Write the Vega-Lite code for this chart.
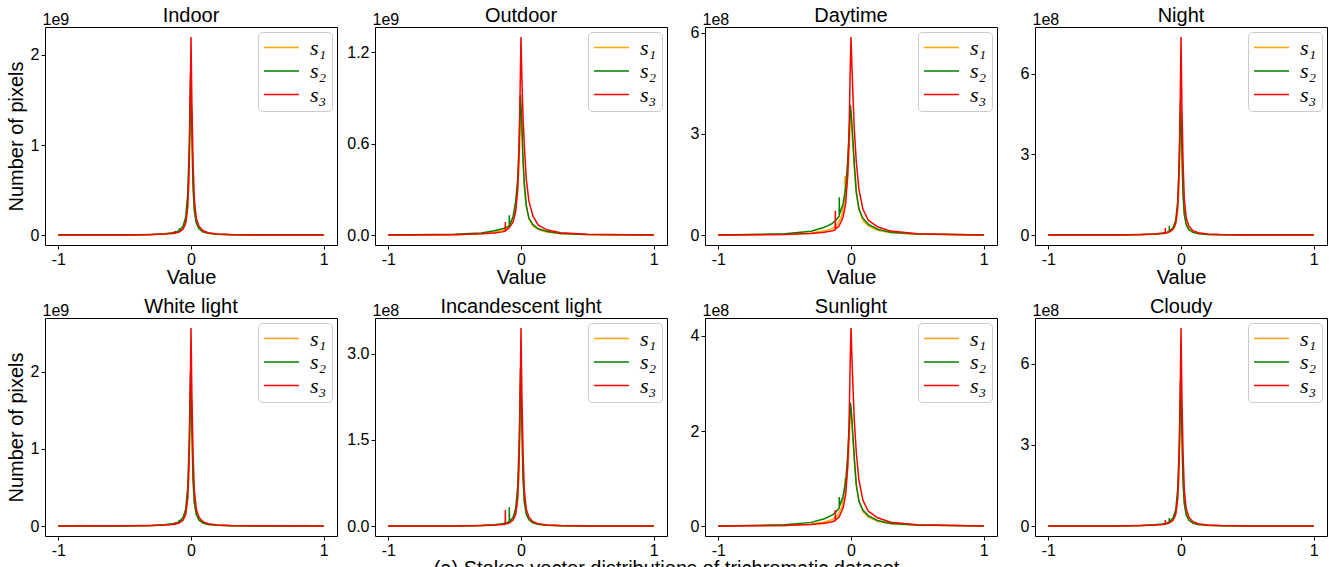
{
"$schema": "https://vega.github.io/schema/vega-lite/v6.json",
"padding": {"left": 5, "top": 5, "right": 0, "bottom": 0},
"config": {
  "font": "Liberation Sans",
  "view": {"stroke": "#000000", "strokeWidth": 1},
  "axis": {"domain": false, "grid": false, "tickColor": "#000000", "tickSize": 4, "labelColor": "#000000", "labelFontSize": 16, "labelPadding": 2, "titleFontSize": 20, "titleFontWeight": "normal", "titleColor": "#000000", "labelFont": "Liberation Sans", "titleFont": "Liberation Sans"},
  "title": {"fontSize": 20, "fontWeight": "normal", "color": "#000000", "font": "Liberation Sans", "frame": "group", "anchor": "middle", "offset": -15},
  "legend": {"orient": "top-right", "offset": 5, "padding": 5, "fillColor": "#ffffff", "strokeColor": "#cccccc", "cornerRadius": 4, "symbolType": "stroke", "symbolSize": 1225, "symbolStrokeWidth": 2.8, "clipHeight": 21, "rowPadding": 0.5, "labelFont": "Liberation Serif", "labelFontStyle": "italic", "labelFontSize": 22, "labelOffset": 10, "title": null},
  "line": {"strokeWidth": 1.5}
},
"datasets": {
"Indoor": [
{"s":"s₁","x":-1,"y":0},{"s":"s₁","x":-0.5,"y":0.002},{"s":"s₁","x":-0.3,"y":0.005},{"s":"s₁","x":-0.2,"y":0.012},{"s":"s₁","x":-0.14,"y":0.02},{"s":"s₁","x":-0.1,"y":0.034},{"s":"s₁","x":-0.07,"y":0.06},{"s":"s₁","x":-0.046,"y":0.11},{"s":"s₁","x":-0.045,"y":0.16},{"s":"s₁","x":-0.044,"y":0.119},{"s":"s₁","x":-0.03,"y":0.238},{"s":"s₁","x":-0.018,"y":0.51},{"s":"s₁","x":-0.009,"y":1.02},{"s":"s₁","x":-0.002,"y":1.7},{"s":"s₁","x":0.006,"y":1.224},{"s":"s₁","x":0.015,"y":0.595},{"s":"s₁","x":0.025,"y":0.289},{"s":"s₁","x":0.04,"y":0.145},{"s":"s₁","x":0.06,"y":0.071},{"s":"s₁","x":0.09,"y":0.036},{"s":"s₁","x":0.13,"y":0.019},{"s":"s₁","x":0.2,"y":0.009},{"s":"s₁","x":0.3,"y":0.003},{"s":"s₁","x":0.5,"y":0.002},{"s":"s₁","x":1,"y":0},
{"s":"s₂","x":-1,"y":0},{"s":"s₂","x":-0.5,"y":0.002},{"s":"s₂","x":-0.3,"y":0.007},{"s":"s₂","x":-0.2,"y":0.016},{"s":"s₂","x":-0.14,"y":0.027},{"s":"s₂","x":-0.11,"y":0.036},{"s":"s₂","x":-0.089,"y":0.05},{"s":"s₂","x":-0.088,"y":0.075},{"s":"s₂","x":-0.087,"y":0.054},{"s":"s₂","x":-0.06,"y":0.099},{"s":"s₂","x":-0.04,"y":0.198},{"s":"s₂","x":-0.025,"y":0.45},{"s":"s₂","x":-0.013,"y":0.99},{"s":"s₂","x":-0.004,"y":1.8},{"s":"s₂","x":0.004,"y":1.35},{"s":"s₂","x":0.015,"y":0.54},{"s":"s₂","x":0.025,"y":0.27},{"s":"s₂","x":0.04,"y":0.135},{"s":"s₂","x":0.06,"y":0.072},{"s":"s₂","x":0.09,"y":0.036},{"s":"s₂","x":0.13,"y":0.02},{"s":"s₂","x":0.2,"y":0.009},{"s":"s₂","x":0.3,"y":0.004},{"s":"s₂","x":0.5,"y":0.002},{"s":"s₂","x":1,"y":0},
{"s":"s₃","x":-1,"y":0},{"s":"s₃","x":-0.5,"y":0.002},{"s":"s₃","x":-0.3,"y":0.007},{"s":"s₃","x":-0.2,"y":0.011},{"s":"s₃","x":-0.14,"y":0.018},{"s":"s₃","x":-0.119,"y":0.02},{"s":"s₃","x":-0.118,"y":0.045},{"s":"s₃","x":-0.117,"y":0.022},{"s":"s₃","x":-0.09,"y":0.033},{"s":"s₃","x":-0.06,"y":0.066},{"s":"s₃","x":-0.04,"y":0.132},{"s":"s₃","x":-0.025,"y":0.308},{"s":"s₃","x":-0.015,"y":0.704},{"s":"s₃","x":-0.007,"y":1.32},{"s":"s₃","x":0,"y":2.2},{"s":"s₃","x":0.007,"y":1.43},{"s":"s₃","x":0.015,"y":0.836},{"s":"s₃","x":0.025,"y":0.396},{"s":"s₃","x":0.04,"y":0.187},{"s":"s₃","x":0.06,"y":0.099},{"s":"s₃","x":0.09,"y":0.048},{"s":"s₃","x":0.13,"y":0.026},{"s":"s₃","x":0.2,"y":0.013},{"s":"s₃","x":0.3,"y":0.007},{"s":"s₃","x":0.5,"y":0.002},{"s":"s₃","x":1,"y":0}
],
"Outdoor": [
{"s":"s₁","x":-1,"y":0},{"s":"s₁","x":-0.5,"y":0.003},{"s":"s₁","x":-0.3,"y":0.009},{"s":"s₁","x":-0.2,"y":0.019},{"s":"s₁","x":-0.14,"y":0.03},{"s":"s₁","x":-0.1,"y":0.047},{"s":"s₁","x":-0.07,"y":0.085},{"s":"s₁","x":-0.046,"y":0.145},{"s":"s₁","x":-0.045,"y":0.2},{"s":"s₁","x":-0.044,"y":0.162},{"s":"s₁","x":-0.03,"y":0.255},{"s":"s₁","x":-0.018,"y":0.4},{"s":"s₁","x":-0.009,"y":0.62},{"s":"s₁","x":-0.002,"y":0.85},{"s":"s₁","x":0.006,"y":0.697},{"s":"s₁","x":0.015,"y":0.468},{"s":"s₁","x":0.025,"y":0.315},{"s":"s₁","x":0.04,"y":0.187},{"s":"s₁","x":0.06,"y":0.106},{"s":"s₁","x":0.09,"y":0.06},{"s":"s₁","x":0.13,"y":0.037},{"s":"s₁","x":0.2,"y":0.019},{"s":"s₁","x":0.3,"y":0.009},{"s":"s₁","x":0.5,"y":0.003},{"s":"s₁","x":1,"y":0},
{"s":"s₂","x":-1,"y":0},{"s":"s₂","x":-0.5,"y":0.005},{"s":"s₂","x":-0.3,"y":0.014},{"s":"s₂","x":-0.2,"y":0.028},{"s":"s₂","x":-0.14,"y":0.041},{"s":"s₂","x":-0.11,"y":0.051},{"s":"s₂","x":-0.089,"y":0.06},{"s":"s₂","x":-0.088,"y":0.13},{"s":"s₂","x":-0.087,"y":0.064},{"s":"s₂","x":-0.06,"y":0.12},{"s":"s₂","x":-0.04,"y":0.221},{"s":"s₂","x":-0.025,"y":0.368},{"s":"s₂","x":-0.013,"y":0.626},{"s":"s₂","x":-0.004,"y":0.92},{"s":"s₂","x":0.004,"y":0.782},{"s":"s₂","x":0.015,"y":0.506},{"s":"s₂","x":0.025,"y":0.34},{"s":"s₂","x":0.04,"y":0.193},{"s":"s₂","x":0.06,"y":0.11},{"s":"s₂","x":0.09,"y":0.069},{"s":"s₂","x":0.13,"y":0.041},{"s":"s₂","x":0.2,"y":0.023},{"s":"s₂","x":0.3,"y":0.011},{"s":"s₂","x":0.5,"y":0.004},{"s":"s₂","x":1,"y":0},
{"s":"s₃","x":-1,"y":0},{"s":"s₃","x":-0.5,"y":0.003},{"s":"s₃","x":-0.3,"y":0.008},{"s":"s₃","x":-0.2,"y":0.013},{"s":"s₃","x":-0.14,"y":0.021},{"s":"s₃","x":-0.119,"y":0.026},{"s":"s₃","x":-0.118,"y":0.085},{"s":"s₃","x":-0.117,"y":0.029},{"s":"s₃","x":-0.09,"y":0.046},{"s":"s₃","x":-0.06,"y":0.085},{"s":"s₃","x":-0.04,"y":0.156},{"s":"s₃","x":-0.025,"y":0.299},{"s":"s₃","x":-0.015,"y":0.546},{"s":"s₃","x":-0.007,"y":0.936},{"s":"s₃","x":0,"y":1.3},{"s":"s₃","x":0.007,"y":1.014},{"s":"s₃","x":0.015,"y":0.78},{"s":"s₃","x":0.025,"y":0.585},{"s":"s₃","x":0.04,"y":0.364},{"s":"s₃","x":0.06,"y":0.221},{"s":"s₃","x":0.09,"y":0.124},{"s":"s₃","x":0.13,"y":0.065},{"s":"s₃","x":0.2,"y":0.033},{"s":"s₃","x":0.3,"y":0.016},{"s":"s₃","x":0.5,"y":0.005},{"s":"s₃","x":1,"y":0}
],
"Daytime": [
{"s":"s₁","x":-1,"y":0},{"s":"s₁","x":-0.5,"y":0.022},{"s":"s₁","x":-0.3,"y":0.065},{"s":"s₁","x":-0.2,"y":0.126},{"s":"s₁","x":-0.14,"y":0.198},{"s":"s₁","x":-0.1,"y":0.324},{"s":"s₁","x":-0.07,"y":0.576},{"s":"s₁","x":-0.046,"y":1.08},{"s":"s₁","x":-0.045,"y":1.75},{"s":"s₁","x":-0.044,"y":1.188},{"s":"s₁","x":-0.03,"y":1.512},{"s":"s₁","x":-0.018,"y":2.16},{"s":"s₁","x":-0.009,"y":3.06},{"s":"s₁","x":-0.002,"y":3.6},{"s":"s₁","x":0.006,"y":3.24},{"s":"s₁","x":0.015,"y":2.592},{"s":"s₁","x":0.025,"y":1.98},{"s":"s₁","x":0.04,"y":1.26},{"s":"s₁","x":0.06,"y":0.756},{"s":"s₁","x":0.09,"y":0.432},{"s":"s₁","x":0.13,"y":0.27},{"s":"s₁","x":0.2,"y":0.144},{"s":"s₁","x":0.3,"y":0.072},{"s":"s₁","x":0.5,"y":0.025},{"s":"s₁","x":1,"y":0},
{"s":"s₂","x":-1,"y":0},{"s":"s₂","x":-0.5,"y":0.039},{"s":"s₂","x":-0.3,"y":0.116},{"s":"s₂","x":-0.2,"y":0.231},{"s":"s₂","x":-0.14,"y":0.347},{"s":"s₂","x":-0.11,"y":0.462},{"s":"s₂","x":-0.089,"y":0.558},{"s":"s₂","x":-0.088,"y":1.12},{"s":"s₂","x":-0.087,"y":0.616},{"s":"s₂","x":-0.06,"y":0.924},{"s":"s₂","x":-0.04,"y":1.4},{"s":"s₂","x":-0.025,"y":2.195},{"s":"s₂","x":-0.013,"y":3.157},{"s":"s₂","x":-0.004,"y":3.85},{"s":"s₂","x":0.004,"y":3.465},{"s":"s₂","x":0.015,"y":2.772},{"s":"s₂","x":0.025,"y":2.118},{"s":"s₂","x":0.04,"y":1.271},{"s":"s₂","x":0.06,"y":0.77},{"s":"s₂","x":0.09,"y":0.501},{"s":"s₂","x":0.13,"y":0.327},{"s":"s₂","x":0.2,"y":0.173},{"s":"s₂","x":0.3,"y":0.085},{"s":"s₂","x":0.5,"y":0.031},{"s":"s₂","x":1,"y":0},
{"s":"s₃","x":-1,"y":0},{"s":"s₃","x":-0.5,"y":0.018},{"s":"s₃","x":-0.3,"y":0.047},{"s":"s₃","x":-0.2,"y":0.082},{"s":"s₃","x":-0.14,"y":0.129},{"s":"s₃","x":-0.119,"y":0.159},{"s":"s₃","x":-0.118,"y":0.72},{"s":"s₃","x":-0.117,"y":0.176},{"s":"s₃","x":-0.09,"y":0.265},{"s":"s₃","x":-0.06,"y":0.529},{"s":"s₃","x":-0.04,"y":0.941},{"s":"s₃","x":-0.025,"y":1.764},{"s":"s₃","x":-0.015,"y":2.94},{"s":"s₃","x":-0.007,"y":4.704},{"s":"s₃","x":0,"y":5.88},{"s":"s₃","x":0.007,"y":4.998},{"s":"s₃","x":0.015,"y":4.116},{"s":"s₃","x":0.025,"y":3.116},{"s":"s₃","x":0.04,"y":2.176},{"s":"s₃","x":0.06,"y":1.352},{"s":"s₃","x":0.09,"y":0.764},{"s":"s₃","x":0.13,"y":0.441},{"s":"s₃","x":0.2,"y":0.247},{"s":"s₃","x":0.3,"y":0.118},{"s":"s₃","x":0.5,"y":0.041},{"s":"s₃","x":1,"y":0}
],
"Night": [
{"s":"s₁","x":-1,"y":0},{"s":"s₁","x":-0.5,"y":0.005},{"s":"s₁","x":-0.3,"y":0.014},{"s":"s₁","x":-0.2,"y":0.034},{"s":"s₁","x":-0.14,"y":0.058},{"s":"s₁","x":-0.1,"y":0.096},{"s":"s₁","x":-0.07,"y":0.168},{"s":"s₁","x":-0.046,"y":0.312},{"s":"s₁","x":-0.045,"y":0.48},{"s":"s₁","x":-0.044,"y":0.336},{"s":"s₁","x":-0.03,"y":0.672},{"s":"s₁","x":-0.018,"y":1.44},{"s":"s₁","x":-0.009,"y":2.88},{"s":"s₁","x":-0.002,"y":4.8},{"s":"s₁","x":0.006,"y":3.456},{"s":"s₁","x":0.015,"y":1.68},{"s":"s₁","x":0.025,"y":0.816},{"s":"s₁","x":0.04,"y":0.408},{"s":"s₁","x":0.06,"y":0.202},{"s":"s₁","x":0.09,"y":0.101},{"s":"s₁","x":0.13,"y":0.053},{"s":"s₁","x":0.2,"y":0.024},{"s":"s₁","x":0.3,"y":0.01},{"s":"s₁","x":0.5,"y":0.005},{"s":"s₁","x":1,"y":0},
{"s":"s₂","x":-1,"y":0},{"s":"s₂","x":-0.5,"y":0.005},{"s":"s₂","x":-0.3,"y":0.02},{"s":"s₂","x":-0.2,"y":0.045},{"s":"s₂","x":-0.14,"y":0.075},{"s":"s₂","x":-0.11,"y":0.1},{"s":"s₂","x":-0.089,"y":0.14},{"s":"s₂","x":-0.088,"y":0.35},{"s":"s₂","x":-0.087,"y":0.15},{"s":"s₂","x":-0.06,"y":0.275},{"s":"s₂","x":-0.04,"y":0.55},{"s":"s₂","x":-0.025,"y":1.25},{"s":"s₂","x":-0.013,"y":2.75},{"s":"s₂","x":-0.004,"y":5},{"s":"s₂","x":0.004,"y":3.75},{"s":"s₂","x":0.015,"y":1.5},{"s":"s₂","x":0.025,"y":0.75},{"s":"s₂","x":0.04,"y":0.375},{"s":"s₂","x":0.06,"y":0.2},{"s":"s₂","x":0.09,"y":0.1},{"s":"s₂","x":0.13,"y":0.055},{"s":"s₂","x":0.2,"y":0.025},{"s":"s₂","x":0.3,"y":0.01},{"s":"s₂","x":0.5,"y":0.005},{"s":"s₂","x":1,"y":0},
{"s":"s₃","x":-1,"y":0},{"s":"s₃","x":-0.5,"y":0.007},{"s":"s₃","x":-0.3,"y":0.022},{"s":"s₃","x":-0.2,"y":0.037},{"s":"s₃","x":-0.14,"y":0.059},{"s":"s₃","x":-0.119,"y":0.066},{"s":"s₃","x":-0.118,"y":0.26},{"s":"s₃","x":-0.117,"y":0.074},{"s":"s₃","x":-0.09,"y":0.111},{"s":"s₃","x":-0.06,"y":0.221},{"s":"s₃","x":-0.04,"y":0.442},{"s":"s₃","x":-0.025,"y":1.032},{"s":"s₃","x":-0.015,"y":2.358},{"s":"s₃","x":-0.007,"y":4.422},{"s":"s₃","x":0,"y":7.37},{"s":"s₃","x":0.007,"y":4.791},{"s":"s₃","x":0.015,"y":2.801},{"s":"s₃","x":0.025,"y":1.327},{"s":"s₃","x":0.04,"y":0.626},{"s":"s₃","x":0.06,"y":0.332},{"s":"s₃","x":0.09,"y":0.162},{"s":"s₃","x":0.13,"y":0.088},{"s":"s₃","x":0.2,"y":0.044},{"s":"s₃","x":0.3,"y":0.022},{"s":"s₃","x":0.5,"y":0.007},{"s":"s₃","x":1,"y":0}
],
"White": [
{"s":"s₁","x":-1,"y":0},{"s":"s₁","x":-0.5,"y":0.002},{"s":"s₁","x":-0.3,"y":0.006},{"s":"s₁","x":-0.2,"y":0.013},{"s":"s₁","x":-0.14,"y":0.023},{"s":"s₁","x":-0.1,"y":0.038},{"s":"s₁","x":-0.07,"y":0.067},{"s":"s₁","x":-0.046,"y":0.124},{"s":"s₁","x":-0.045,"y":0.16},{"s":"s₁","x":-0.044,"y":0.133},{"s":"s₁","x":-0.03,"y":0.266},{"s":"s₁","x":-0.018,"y":0.57},{"s":"s₁","x":-0.009,"y":1.14},{"s":"s₁","x":-0.002,"y":1.9},{"s":"s₁","x":0.006,"y":1.368},{"s":"s₁","x":0.015,"y":0.665},{"s":"s₁","x":0.025,"y":0.323},{"s":"s₁","x":0.04,"y":0.162},{"s":"s₁","x":0.06,"y":0.08},{"s":"s₁","x":0.09,"y":0.04},{"s":"s₁","x":0.13,"y":0.021},{"s":"s₁","x":0.2,"y":0.01},{"s":"s₁","x":0.3,"y":0.004},{"s":"s₁","x":0.5,"y":0.002},{"s":"s₁","x":1,"y":0},
{"s":"s₂","x":-1,"y":0},{"s":"s₂","x":-0.5,"y":0.002},{"s":"s₂","x":-0.3,"y":0.008},{"s":"s₂","x":-0.2,"y":0.018},{"s":"s₂","x":-0.14,"y":0.03},{"s":"s₂","x":-0.11,"y":0.04},{"s":"s₂","x":-0.089,"y":0.056},{"s":"s₂","x":-0.088,"y":0.08},{"s":"s₂","x":-0.087,"y":0.06},{"s":"s₂","x":-0.06,"y":0.11},{"s":"s₂","x":-0.04,"y":0.22},{"s":"s₂","x":-0.025,"y":0.5},{"s":"s₂","x":-0.013,"y":1.1},{"s":"s₂","x":-0.004,"y":2},{"s":"s₂","x":0.004,"y":1.5},{"s":"s₂","x":0.015,"y":0.6},{"s":"s₂","x":0.025,"y":0.3},{"s":"s₂","x":0.04,"y":0.15},{"s":"s₂","x":0.06,"y":0.08},{"s":"s₂","x":0.09,"y":0.04},{"s":"s₂","x":0.13,"y":0.022},{"s":"s₂","x":0.2,"y":0.01},{"s":"s₂","x":0.3,"y":0.004},{"s":"s₂","x":0.5,"y":0.002},{"s":"s₂","x":1,"y":0},
{"s":"s₃","x":-1,"y":0},{"s":"s₃","x":-0.5,"y":0.003},{"s":"s₃","x":-0.3,"y":0.008},{"s":"s₃","x":-0.2,"y":0.013},{"s":"s₃","x":-0.14,"y":0.021},{"s":"s₃","x":-0.119,"y":0.023},{"s":"s₃","x":-0.118,"y":0.05},{"s":"s₃","x":-0.117,"y":0.026},{"s":"s₃","x":-0.09,"y":0.039},{"s":"s₃","x":-0.06,"y":0.077},{"s":"s₃","x":-0.04,"y":0.154},{"s":"s₃","x":-0.025,"y":0.36},{"s":"s₃","x":-0.015,"y":0.822},{"s":"s₃","x":-0.007,"y":1.542},{"s":"s₃","x":0,"y":2.57},{"s":"s₃","x":0.007,"y":1.671},{"s":"s₃","x":0.015,"y":0.977},{"s":"s₃","x":0.025,"y":0.463},{"s":"s₃","x":0.04,"y":0.218},{"s":"s₃","x":0.06,"y":0.116},{"s":"s₃","x":0.09,"y":0.057},{"s":"s₃","x":0.13,"y":0.031},{"s":"s₃","x":0.2,"y":0.015},{"s":"s₃","x":0.3,"y":0.008},{"s":"s₃","x":0.5,"y":0.003},{"s":"s₃","x":1,"y":0}
],
"Incandescent": [
{"s":"s₁","x":-1,"y":0},{"s":"s₁","x":-0.5,"y":0.003},{"s":"s₁","x":-0.3,"y":0.008},{"s":"s₁","x":-0.2,"y":0.018},{"s":"s₁","x":-0.14,"y":0.031},{"s":"s₁","x":-0.1,"y":0.052},{"s":"s₁","x":-0.07,"y":0.091},{"s":"s₁","x":-0.046,"y":0.169},{"s":"s₁","x":-0.045,"y":0.28},{"s":"s₁","x":-0.044,"y":0.182},{"s":"s₁","x":-0.03,"y":0.364},{"s":"s₁","x":-0.018,"y":0.78},{"s":"s₁","x":-0.009,"y":1.56},{"s":"s₁","x":-0.002,"y":2.6},{"s":"s₁","x":0.006,"y":1.872},{"s":"s₁","x":0.015,"y":0.91},{"s":"s₁","x":0.025,"y":0.442},{"s":"s₁","x":0.04,"y":0.221},{"s":"s₁","x":0.06,"y":0.109},{"s":"s₁","x":0.09,"y":0.055},{"s":"s₁","x":0.13,"y":0.029},{"s":"s₁","x":0.2,"y":0.013},{"s":"s₁","x":0.3,"y":0.005},{"s":"s₁","x":0.5,"y":0.003},{"s":"s₁","x":1,"y":0},
{"s":"s₂","x":-1,"y":0},{"s":"s₂","x":-0.5,"y":0.003},{"s":"s₂","x":-0.3,"y":0.011},{"s":"s₂","x":-0.2,"y":0.025},{"s":"s₂","x":-0.14,"y":0.041},{"s":"s₂","x":-0.11,"y":0.055},{"s":"s₂","x":-0.089,"y":0.077},{"s":"s₂","x":-0.088,"y":0.33},{"s":"s₂","x":-0.087,"y":0.083},{"s":"s₂","x":-0.06,"y":0.151},{"s":"s₂","x":-0.04,"y":0.303},{"s":"s₂","x":-0.025,"y":0.688},{"s":"s₂","x":-0.013,"y":1.513},{"s":"s₂","x":-0.004,"y":2.75},{"s":"s₂","x":0.004,"y":2.063},{"s":"s₂","x":0.015,"y":0.825},{"s":"s₂","x":0.025,"y":0.413},{"s":"s₂","x":0.04,"y":0.206},{"s":"s₂","x":0.06,"y":0.11},{"s":"s₂","x":0.09,"y":0.055},{"s":"s₂","x":0.13,"y":0.03},{"s":"s₂","x":0.2,"y":0.014},{"s":"s₂","x":0.3,"y":0.006},{"s":"s₂","x":0.5,"y":0.003},{"s":"s₂","x":1,"y":0},
{"s":"s₃","x":-1,"y":0},{"s":"s₃","x":-0.5,"y":0.003},{"s":"s₃","x":-0.3,"y":0.01},{"s":"s₃","x":-0.2,"y":0.017},{"s":"s₃","x":-0.14,"y":0.028},{"s":"s₃","x":-0.119,"y":0.031},{"s":"s₃","x":-0.118,"y":0.28},{"s":"s₃","x":-0.117,"y":0.035},{"s":"s₃","x":-0.09,"y":0.052},{"s":"s₃","x":-0.06,"y":0.104},{"s":"s₃","x":-0.04,"y":0.207},{"s":"s₃","x":-0.025,"y":0.483},{"s":"s₃","x":-0.015,"y":1.104},{"s":"s₃","x":-0.007,"y":2.07},{"s":"s₃","x":0,"y":3.45},{"s":"s₃","x":0.007,"y":2.243},{"s":"s₃","x":0.015,"y":1.311},{"s":"s₃","x":0.025,"y":0.621},{"s":"s₃","x":0.04,"y":0.293},{"s":"s₃","x":0.06,"y":0.155},{"s":"s₃","x":0.09,"y":0.076},{"s":"s₃","x":0.13,"y":0.041},{"s":"s₃","x":0.2,"y":0.021},{"s":"s₃","x":0.3,"y":0.01},{"s":"s₃","x":0.5,"y":0.003},{"s":"s₃","x":1,"y":0}
],
"Sunlight": [
{"s":"s₁","x":-1,"y":0},{"s":"s₁","x":-0.5,"y":0.015},{"s":"s₁","x":-0.3,"y":0.045},{"s":"s₁","x":-0.2,"y":0.088},{"s":"s₁","x":-0.14,"y":0.138},{"s":"s₁","x":-0.1,"y":0.225},{"s":"s₁","x":-0.07,"y":0.4},{"s":"s₁","x":-0.046,"y":0.75},{"s":"s₁","x":-0.045,"y":1.0},{"s":"s₁","x":-0.044,"y":0.825},{"s":"s₁","x":-0.03,"y":1.05},{"s":"s₁","x":-0.018,"y":1.5},{"s":"s₁","x":-0.009,"y":2.125},{"s":"s₁","x":-0.002,"y":2.5},{"s":"s₁","x":0.006,"y":2.25},{"s":"s₁","x":0.015,"y":1.8},{"s":"s₁","x":0.025,"y":1.375},{"s":"s₁","x":0.04,"y":0.875},{"s":"s₁","x":0.06,"y":0.525},{"s":"s₁","x":0.09,"y":0.3},{"s":"s₁","x":0.13,"y":0.188},{"s":"s₁","x":0.2,"y":0.1},{"s":"s₁","x":0.3,"y":0.05},{"s":"s₁","x":0.5,"y":0.018},{"s":"s₁","x":1,"y":0},
{"s":"s₂","x":-1,"y":0},{"s":"s₂","x":-0.5,"y":0.026},{"s":"s₂","x":-0.3,"y":0.078},{"s":"s₂","x":-0.2,"y":0.156},{"s":"s₂","x":-0.14,"y":0.234},{"s":"s₂","x":-0.11,"y":0.312},{"s":"s₂","x":-0.089,"y":0.377},{"s":"s₂","x":-0.088,"y":0.61},{"s":"s₂","x":-0.087,"y":0.416},{"s":"s₂","x":-0.06,"y":0.624},{"s":"s₂","x":-0.04,"y":0.95},{"s":"s₂","x":-0.025,"y":1.482},{"s":"s₂","x":-0.013,"y":2.132},{"s":"s₂","x":-0.004,"y":2.6},{"s":"s₂","x":0.004,"y":2.34},{"s":"s₂","x":0.015,"y":1.872},{"s":"s₂","x":0.025,"y":1.43},{"s":"s₂","x":0.04,"y":0.858},{"s":"s₂","x":0.06,"y":0.52},{"s":"s₂","x":0.09,"y":0.338},{"s":"s₂","x":0.13,"y":0.221},{"s":"s₂","x":0.2,"y":0.117},{"s":"s₂","x":0.3,"y":0.057},{"s":"s₂","x":0.5,"y":0.021},{"s":"s₂","x":1,"y":0},
{"s":"s₃","x":-1,"y":0},{"s":"s₃","x":-0.5,"y":0.013},{"s":"s₃","x":-0.3,"y":0.033},{"s":"s₃","x":-0.2,"y":0.058},{"s":"s₃","x":-0.14,"y":0.092},{"s":"s₃","x":-0.119,"y":0.113},{"s":"s₃","x":-0.118,"y":0.34},{"s":"s₃","x":-0.117,"y":0.125},{"s":"s₃","x":-0.09,"y":0.188},{"s":"s₃","x":-0.06,"y":0.375},{"s":"s₃","x":-0.04,"y":0.667},{"s":"s₃","x":-0.025,"y":1.251},{"s":"s₃","x":-0.015,"y":2.085},{"s":"s₃","x":-0.007,"y":3.336},{"s":"s₃","x":0,"y":4.17},{"s":"s₃","x":0.007,"y":3.545},{"s":"s₃","x":0.015,"y":2.919},{"s":"s₃","x":0.025,"y":2.21},{"s":"s₃","x":0.04,"y":1.543},{"s":"s₃","x":0.06,"y":0.959},{"s":"s₃","x":0.09,"y":0.542},{"s":"s₃","x":0.13,"y":0.313},{"s":"s₃","x":0.2,"y":0.175},{"s":"s₃","x":0.3,"y":0.083},{"s":"s₃","x":0.5,"y":0.029},{"s":"s₃","x":1,"y":0}
],
"Cloudy": [
{"s":"s₁","x":-1,"y":0},{"s":"s₁","x":-0.5,"y":0.005},{"s":"s₁","x":-0.3,"y":0.016},{"s":"s₁","x":-0.2,"y":0.036},{"s":"s₁","x":-0.14,"y":0.062},{"s":"s₁","x":-0.1,"y":0.104},{"s":"s₁","x":-0.07,"y":0.182},{"s":"s₁","x":-0.046,"y":0.338},{"s":"s₁","x":-0.045,"y":0.45},{"s":"s₁","x":-0.044,"y":0.364},{"s":"s₁","x":-0.03,"y":0.728},{"s":"s₁","x":-0.018,"y":1.56},{"s":"s₁","x":-0.009,"y":3.12},{"s":"s₁","x":-0.002,"y":5.2},{"s":"s₁","x":0.006,"y":3.744},{"s":"s₁","x":0.015,"y":1.82},{"s":"s₁","x":0.025,"y":0.884},{"s":"s₁","x":0.04,"y":0.442},{"s":"s₁","x":0.06,"y":0.218},{"s":"s₁","x":0.09,"y":0.109},{"s":"s₁","x":0.13,"y":0.057},{"s":"s₁","x":0.2,"y":0.026},{"s":"s₁","x":0.3,"y":0.01},{"s":"s₁","x":0.5,"y":0.005},{"s":"s₁","x":1,"y":0},
{"s":"s₂","x":-1,"y":0},{"s":"s₂","x":-0.5,"y":0.005},{"s":"s₂","x":-0.3,"y":0.022},{"s":"s₂","x":-0.2,"y":0.049},{"s":"s₂","x":-0.14,"y":0.081},{"s":"s₂","x":-0.11,"y":0.108},{"s":"s₂","x":-0.089,"y":0.151},{"s":"s₂","x":-0.088,"y":0.3},{"s":"s₂","x":-0.087,"y":0.162},{"s":"s₂","x":-0.06,"y":0.297},{"s":"s₂","x":-0.04,"y":0.594},{"s":"s₂","x":-0.025,"y":1.35},{"s":"s₂","x":-0.013,"y":2.97},{"s":"s₂","x":-0.004,"y":5.4},{"s":"s₂","x":0.004,"y":4.05},{"s":"s₂","x":0.015,"y":1.62},{"s":"s₂","x":0.025,"y":0.81},{"s":"s₂","x":0.04,"y":0.405},{"s":"s₂","x":0.06,"y":0.216},{"s":"s₂","x":0.09,"y":0.108},{"s":"s₂","x":0.13,"y":0.059},{"s":"s₂","x":0.2,"y":0.027},{"s":"s₂","x":0.3,"y":0.011},{"s":"s₂","x":0.5,"y":0.005},{"s":"s₂","x":1,"y":0},
{"s":"s₃","x":-1,"y":0},{"s":"s₃","x":-0.5,"y":0.007},{"s":"s₃","x":-0.3,"y":0.022},{"s":"s₃","x":-0.2,"y":0.037},{"s":"s₃","x":-0.14,"y":0.059},{"s":"s₃","x":-0.119,"y":0.066},{"s":"s₃","x":-0.118,"y":0.22},{"s":"s₃","x":-0.117,"y":0.073},{"s":"s₃","x":-0.09,"y":0.11},{"s":"s₃","x":-0.06,"y":0.22},{"s":"s₃","x":-0.04,"y":0.44},{"s":"s₃","x":-0.025,"y":1.026},{"s":"s₃","x":-0.015,"y":2.346},{"s":"s₃","x":-0.007,"y":4.398},{"s":"s₃","x":0,"y":7.33},{"s":"s₃","x":0.007,"y":4.765},{"s":"s₃","x":0.015,"y":2.785},{"s":"s₃","x":0.025,"y":1.319},{"s":"s₃","x":0.04,"y":0.623},{"s":"s₃","x":0.06,"y":0.33},{"s":"s₃","x":0.09,"y":0.161},{"s":"s₃","x":0.13,"y":0.088},{"s":"s₃","x":0.2,"y":0.044},{"s":"s₃","x":0.3,"y":0.022},{"s":"s₃","x":0.5,"y":0.007},{"s":"s₃","x":1,"y":0}
]
},
"title": {"text": "(a) Stokes vector distributions of trichromatic dataset", "orient": "bottom", "anchor": "middle", "frame": "bounds", "fontSize": 20, "offset": 0, "baseline": "top"},
"bounds": "flush",
"columns": 4,
"spacing": {"row": 73, "column": 38},
"resolve": {"scale": {"x": "independent", "y": "independent", "color": "independent"}, "legend": {"color": "independent"}},
"concat": [
  {"title": "Indoor", "width": 292, "height": 218, "data": {"name": "Indoor"},
   "layer": [
    {"mark": {"type": "line", "strokeWidth": 1.5},
     "encoding": {
      "x": {"field": "x", "type": "quantitative", "scale": {"domain": [-1.1, 1.1], "nice": false, "zero": false}, "axis": {"values": [-1, 0, 1], "labelExpr": "'' + datum.value", "title": "Value", "titlePadding": 0}},
      "y": {"field": "y", "type": "quantitative", "scale": {"domain": [-0.11, 2.31], "nice": false, "zero": false}, "axis": {"values": [0, 1, 2], "title": "1e9", "titleAngle": 0, "titleX": -3, "titleY": -3, "titleAlign": "left", "titleBaseline": "alphabetic", "titleFontSize": 16}},
      "color": {"field": "s", "type": "nominal", "scale": {"domain": ["s₁", "s₂", "s₃"], "range": ["#FFA500", "#008000", "#FF0000"]}}
     }},
    {"mark": {"type": "rule", "opacity": 0},
     "encoding": {"y": {"datum": 0, "type": "quantitative", "axis": {"orient": "left", "title": "Number of pixels", "labels": false, "ticks": false, "domain": false, "titlePadding": 19}}}}
   ],
   "resolve": {"axis": {"y": "independent"}}},
  {"title": "Outdoor", "width": 292, "height": 218, "data": {"name": "Outdoor"},
   "mark": {"type": "line", "strokeWidth": 1.5},
   "encoding": {
    "x": {"field": "x", "type": "quantitative", "scale": {"domain": [-1.1, 1.1], "nice": false, "zero": false}, "axis": {"values": [-1, 0, 1], "labelExpr": "'' + datum.value", "title": "Value", "titlePadding": 0}},
    "y": {"field": "y", "type": "quantitative", "scale": {"domain": [-0.065, 1.365], "nice": false, "zero": false}, "axis": {"values": [0, 0.6, 1.2], "title": "1e9", "titleAngle": 0, "titleX": -3, "titleY": -3, "titleAlign": "left", "titleBaseline": "alphabetic", "titleFontSize": 16}},
    "color": {"field": "s", "type": "nominal", "scale": {"domain": ["s₁", "s₂", "s₃"], "range": ["#FFA500", "#008000", "#FF0000"]}}
   }},
  {"title": "Daytime", "width": 292, "height": 218, "data": {"name": "Daytime"},
   "mark": {"type": "line", "strokeWidth": 1.5},
   "encoding": {
    "x": {"field": "x", "type": "quantitative", "scale": {"domain": [-1.1, 1.1], "nice": false, "zero": false}, "axis": {"values": [-1, 0, 1], "labelExpr": "'' + datum.value", "title": "Value", "titlePadding": 0}},
    "y": {"field": "y", "type": "quantitative", "scale": {"domain": [-0.294, 6.174], "nice": false, "zero": false}, "axis": {"values": [0, 3, 6], "title": "1e8", "titleAngle": 0, "titleX": -3, "titleY": -3, "titleAlign": "left", "titleBaseline": "alphabetic", "titleFontSize": 16}},
    "color": {"field": "s", "type": "nominal", "scale": {"domain": ["s₁", "s₂", "s₃"], "range": ["#FFA500", "#008000", "#FF0000"]}}
   }},
  {"title": "Night", "width": 292, "height": 218, "data": {"name": "Night"},
   "mark": {"type": "line", "strokeWidth": 1.5},
   "encoding": {
    "x": {"field": "x", "type": "quantitative", "scale": {"domain": [-1.1, 1.1], "nice": false, "zero": false}, "axis": {"values": [-1, 0, 1], "labelExpr": "'' + datum.value", "title": "Value", "titlePadding": 0}},
    "y": {"field": "y", "type": "quantitative", "scale": {"domain": [-0.3685, 7.7385], "nice": false, "zero": false}, "axis": {"values": [0, 3, 6], "title": "1e8", "titleAngle": 0, "titleX": -3, "titleY": -3, "titleAlign": "left", "titleBaseline": "alphabetic", "titleFontSize": 16}},
    "color": {"field": "s", "type": "nominal", "scale": {"domain": ["s₁", "s₂", "s₃"], "range": ["#FFA500", "#008000", "#FF0000"]}}
   }},
  {"title": "White light", "width": 292, "height": 218, "data": {"name": "White"},
   "layer": [
    {"mark": {"type": "line", "strokeWidth": 1.5},
     "encoding": {
      "x": {"field": "x", "type": "quantitative", "scale": {"domain": [-1.1, 1.1], "nice": false, "zero": false}, "axis": {"values": [-1, 0, 1], "labelExpr": "'' + datum.value", "title": null}},
      "y": {"field": "y", "type": "quantitative", "scale": {"domain": [-0.1285, 2.6985], "nice": false, "zero": false}, "axis": {"values": [0, 1, 2], "title": "1e9", "titleAngle": 0, "titleX": -3, "titleY": -3, "titleAlign": "left", "titleBaseline": "alphabetic", "titleFontSize": 16}},
      "color": {"field": "s", "type": "nominal", "scale": {"domain": ["s₁", "s₂", "s₃"], "range": ["#FFA500", "#008000", "#FF0000"]}}
     }},
    {"mark": {"type": "rule", "opacity": 0},
     "encoding": {"y": {"datum": 0, "type": "quantitative", "axis": {"orient": "left", "title": "Number of pixels", "labels": false, "ticks": false, "domain": false, "titlePadding": 19}}}}
   ],
   "resolve": {"axis": {"y": "independent"}}},
  {"title": "Incandescent light", "width": 292, "height": 218, "data": {"name": "Incandescent"},
   "mark": {"type": "line", "strokeWidth": 1.5},
   "encoding": {
    "x": {"field": "x", "type": "quantitative", "scale": {"domain": [-1.1, 1.1], "nice": false, "zero": false}, "axis": {"values": [-1, 0, 1], "labelExpr": "'' + datum.value", "title": null}},
    "y": {"field": "y", "type": "quantitative", "scale": {"domain": [-0.1725, 3.6225], "nice": false, "zero": false}, "axis": {"values": [0, 1.5, 3], "format": ".1f", "title": "1e8", "titleAngle": 0, "titleX": -3, "titleY": -3, "titleAlign": "left", "titleBaseline": "alphabetic", "titleFontSize": 16}},
    "color": {"field": "s", "type": "nominal", "scale": {"domain": ["s₁", "s₂", "s₃"], "range": ["#FFA500", "#008000", "#FF0000"]}}
   }},
  {"title": "Sunlight", "width": 292, "height": 218, "data": {"name": "Sunlight"},
   "mark": {"type": "line", "strokeWidth": 1.5},
   "encoding": {
    "x": {"field": "x", "type": "quantitative", "scale": {"domain": [-1.1, 1.1], "nice": false, "zero": false}, "axis": {"values": [-1, 0, 1], "labelExpr": "'' + datum.value", "title": null}},
    "y": {"field": "y", "type": "quantitative", "scale": {"domain": [-0.2085, 4.3785], "nice": false, "zero": false}, "axis": {"values": [0, 2, 4], "title": "1e8", "titleAngle": 0, "titleX": -3, "titleY": -3, "titleAlign": "left", "titleBaseline": "alphabetic", "titleFontSize": 16}},
    "color": {"field": "s", "type": "nominal", "scale": {"domain": ["s₁", "s₂", "s₃"], "range": ["#FFA500", "#008000", "#FF0000"]}}
   }},
  {"title": "Cloudy", "width": 292, "height": 218, "data": {"name": "Cloudy"},
   "mark": {"type": "line", "strokeWidth": 1.5},
   "encoding": {
    "x": {"field": "x", "type": "quantitative", "scale": {"domain": [-1.1, 1.1], "nice": false, "zero": false}, "axis": {"values": [-1, 0, 1], "labelExpr": "'' + datum.value", "title": null}},
    "y": {"field": "y", "type": "quantitative", "scale": {"domain": [-0.3665, 7.6965], "nice": false, "zero": false}, "axis": {"values": [0, 3, 6], "title": "1e8", "titleAngle": 0, "titleX": -3, "titleY": -3, "titleAlign": "left", "titleBaseline": "alphabetic", "titleFontSize": 16}},
    "color": {"field": "s", "type": "nominal", "scale": {"domain": ["s₁", "s₂", "s₃"], "range": ["#FFA500", "#008000", "#FF0000"]}}
   }}
]
}
